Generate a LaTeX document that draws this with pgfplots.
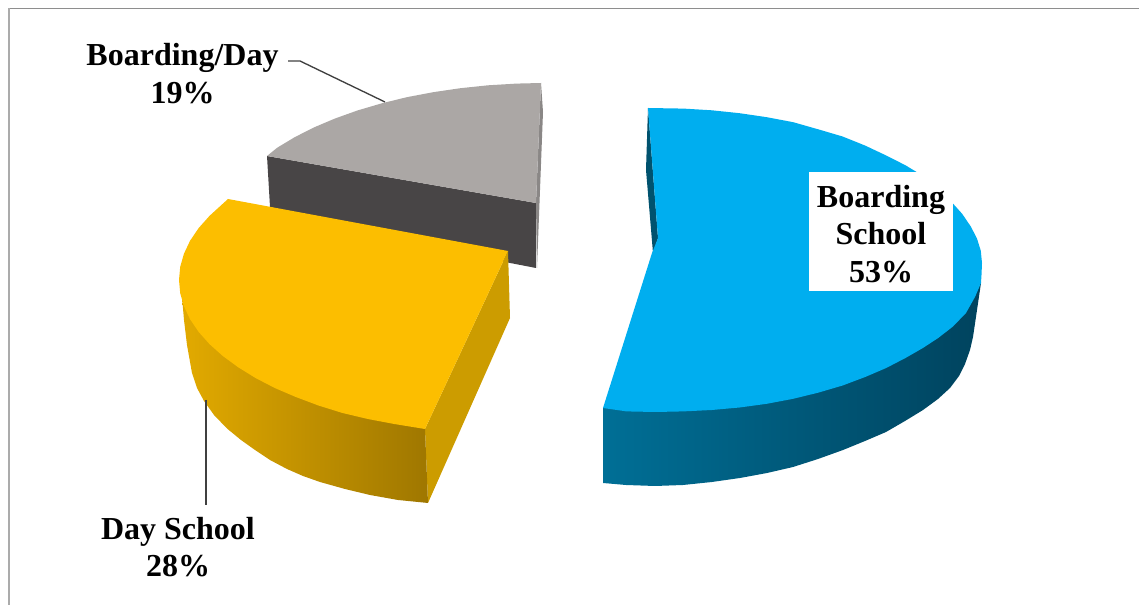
\documentclass[border=0pt]{standalone}
\usepackage{fontspec}
\setmainfont{Liberation Serif}
\usepackage{pgfplots}
\pgfplotsset{compat=1.18}
\definecolor{frameA}{HTML}{8E8E8E}
\definecolor{frameB}{HTML}{ABABAB}
\definecolor{leader}{HTML}{404040}
\definecolor{greyTop}{HTML}{ABA7A5}
\definecolor{greyWall}{HTML}{484546}
\definecolor{greyEdge}{HTML}{8A8786}
\definecolor{blueTop}{HTML}{00AEEF}
\definecolor{blueWall}{HTML}{00526E}
\definecolor{blueSideL}{HTML}{006F96}
\definecolor{blueSideR}{HTML}{00435E}
\definecolor{amberTop}{HTML}{FCBE00}
\definecolor{amberWall}{HTML}{CC9C00}
\definecolor{amberSideL}{HTML}{E2AA00}
\definecolor{amberSideR}{HTML}{9F7700}
\newcommand{\lbl}{\bfseries\fontsize{24}{28}\selectfont}
\begin{document}
\begin{tikzpicture}
\path[use as bounding box] (0,0) rectangle (854.25pt,453.75pt);
\begin{axis}[
  at={(0,0)}, anchor=south west,
  scale only axis, width=854.25pt, height=453.75pt,
  xmin=0, xmax=1139, ymin=0, ymax=605, y dir=reverse,
  axis lines=none, clip=false, no markers]

% chart frame: top and left edges only
\addplot[frameA, line width=1.1pt] coordinates {(1139,8.5) (9,8.5)};
\addplot[frameB, line width=1.1pt] coordinates {(9,8.5) (9,605)};

% Boarding/Day slice
\addplot[draw=none, fill=greyWall] coordinates {(267,156) (536,203) (536,268) (505,262) (270,207)} --cycle;
\addplot[draw=none, fill=greyEdge] coordinates {(541,83) (543,112) (537,268) (536,203)} --cycle;
\addplot[draw=none, fill=greyTop] coordinates {(541,83) (516.5,83.6) (488.2,85.3) (460.4,88.2) (433.2,92.2) (406.8,97.2) (381.5,103.4) (357.4,110.5) (334.8,118.6) (313.8,127.5) (294.5,137.3) (277.1,147.8) (267,156) (536,203)} --cycle;

% Boarding School slice
\addplot[draw=none, fill=blueWall] coordinates {(648,108) (646,170) (653,253) (658,238)} --cycle;
\addplot[draw=none, left color=blueSideL, middle color=blueSideR, right color=blueSideR]
  coordinates {(603,408) (603,483) (626,485) (655,486) (683,485) (712,482) (740,478) (767,473) (793,467) (818,459) (843,450) (865,441) (886,432) (905,421) (923,410) (938,399) (950,388) (959,376) (965,364) (970,350) (973,337) (981,283) (950,300) (800,380) (640,400)} --cycle;
\addplot[draw=none, fill=blueTop]
  coordinates {(648,108) (683.5,108.6) (711.8,110.3) (739.6,113.2) (766.8,117.2) (793.2,122.2) (818.5,129.4) (842.6,136.5) (865.2,145.6) (886.2,155.5) (905.5,165.3) (922.9,175.8) (938.2,188) (951.4,201.8) (962.3,214) (970.9,226.7) (977,238.6) (980.8,250.8) (982,263) (981.5,275) (981,283) (975,297) (966,313) (953,326.5) (938.2,338) (922.9,348) (905.5,358) (886.2,368) (865.2,377) (842.6,385.5) (818.5,392.6) (793.2,398.8) (766.8,403.8) (739.6,407.5) (711.8,410) (683.5,411.4) (655,412) (626.5,411.4) (603,408) (652,253) (658,238)} --cycle;

% Day School slice
\addplot[draw=none, fill=amberWall] coordinates {(508,251) (510,318) (428,503) (425,429)} --cycle;
\addplot[draw=none, left color=amberSideL, right color=amberSideR]
  coordinates {(182,297) (184,320) (187,345) (192,373) (197,388) (204,401) (214,415) (227,428.5) (241,440) (255,450) (270,460) (287,469) (303,476) (320,482) (345,489) (370,495) (398,500) (428,503) (425,429) (340,380) (220,320)} --cycle;
\addplot[draw=none, fill=amberTop]
  coordinates {(228,199) (508,251) (425,429) (394.2,424) (367.8,419) (342.5,413) (318.4,405.5) (295.8,397) (274.8,388) (255.5,378) (238.1,367.2) (222.8,356) (209.6,344.2) (198.7,332) (190.1,319.3) (184,306.4) (180.2,293.2) (179,280) (180.2,266.8) (184,253.6) (190.1,240.7) (198.7,228) (209.6,215.8)} --cycle;

% leader lines
\addplot[leader, line width=1pt] coordinates {(288,61) (300,61) (385,102)};
\addplot[leader, line width=1pt] coordinates {(206,400) (206,505)};

% data labels
\node[font=\lbl, align=center] at (axis cs:182.5,73.5) {Boarding/Day\\19\%};
\node[font=\lbl, align=center] at (axis cs:178,547) {Day School\\28\%};
\node[fill=white, inner sep=0pt, minimum width=108pt, minimum height=89.25pt] at (axis cs:881,231.5) {};
\node[font=\lbl, align=center] at (axis cs:881,234) {Boarding\\School\\53\%};
\end{axis}
\end{tikzpicture}
\end{document}
